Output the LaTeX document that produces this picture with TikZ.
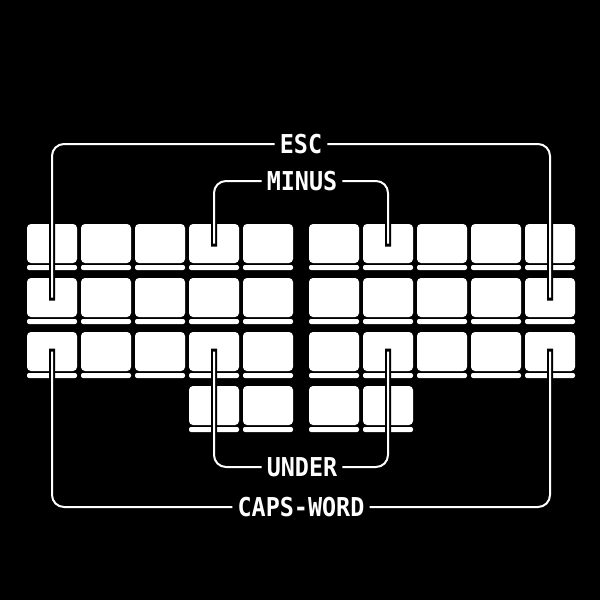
\documentclass[tikz,border=0pt]{standalone}
\usepackage{fontspec}
\newfontfamily\pixfont{DejaVu Sans Mono}
\usetikzlibrary{calc}
\tikzset{
  keybody/.style={fill=white, rounded corners=4pt, minimum width=50pt, minimum height=39pt, inner sep=0pt},
  wireback/.style={line width=6pt, black, line cap=rect, rounded corners=12pt},
  wire/.style={line width=2pt, white, rounded corners=12pt},
  combo/.style={text=white, inner sep=5pt, font=\pixfont\bfseries\fontsize{26}{26}\selectfont}
}
\def\lbl#1{\scalebox{0.9}[1]{#1}}

\begin{document}
\begin{tikzpicture}[x=1pt,y=-1pt]
			%%%%% START %%%%%
			\def\pitch{54}
			\def\half{25}
			
			\fill[black] (0,0) rectangle (600,600);
			\useasboundingbox (0,0) rectangle (600,600);
			
			% main rows
			\foreach \r in {0,1,2}{
				\foreach \c in {0,...,9}{
					\pgfmathsetmacro\kx{\c<5 ? 52+\pitch*\c : 64+\pitch*\c}
					\pgfmathsetmacro\ky{243.5+\pitch*\r}
					\node[keybody] (k-\r-\c) at (\kx,\ky) {};
					\fill[white, rounded corners=2pt] (\kx-\half,\ky+21.5) rectangle (\kx+\half,\ky+26.5);
				}
			}
			% thumbs
			\foreach \c in {3,4,5,6}{
				\pgfmathsetmacro\kx{\c<5 ? 52+\pitch*\c : 64+\pitch*\c}
				\node[keybody] (k-3-\c) at (\kx,405.5) {};
				\fill[white, rounded corners=2pt] (\kx-\half,427) rectangle (\kx+\half,432);
			}
			
			\node[combo] (esc) at (301,144) {\lbl{ESC}};
			\node[combo] (minus) at (302,181) {\lbl{MINUS}};
			\node[combo] (under) at (302,467) {\lbl{UNDER}};
			\node[combo] (caps) at (301,507) {\lbl{CAPS-WORD}};
			
			\foreach \a/\b in {esc.west/k-1-0, esc.east/k-1-9, minus.west/k-0-3, minus.east/k-0-6,
				under.west/k-2-3, under.east/k-2-6, caps.west/k-2-0, caps.east/k-2-9}{
				\draw[wireback] (\a) -| (\b.center);
				\draw[wire] (\a) -| (\b.center);
			}
			%%%%% END %%%%%
\end{tikzpicture}
\end{document}
